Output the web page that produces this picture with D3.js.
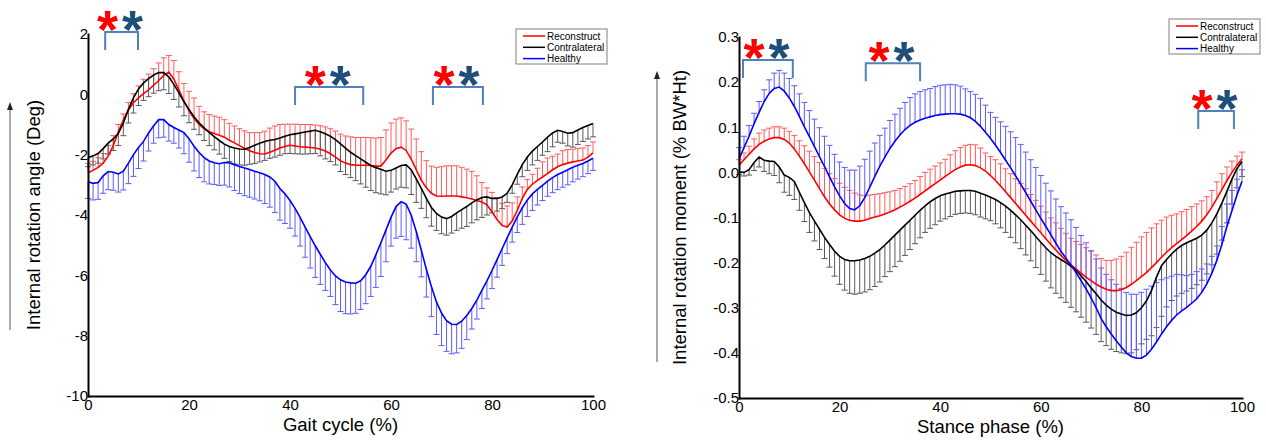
<!DOCTYPE html>
<html>
<head>
<meta charset="utf-8">
<script src="https://cdn.jsdelivr.net/npm/d3@7"></script>
<style>
  body { margin: 0; background: #fff; }
  text { font-family: Arial, "Liberation Sans", sans-serif; }
</style>
</head>
<body>
<div id="vis"></div>
<script>
// percent of gait cycle / stance phase, one point per 1 %
var pct = d3.range(0, 101);
var pctTicks = [0, 20, 40, 60, 80, 100];
var angleTicks = [2, 0, -2, -4, -6, -8, -10];
var momentTicks = [0.3, 0.2, 0.1, 0.0, -0.1, -0.2, -0.3, -0.4, -0.5];
var groups = ['Reconstruct', 'Contralateral', 'Healthy'];

// ---- internal rotation angle (deg), mean and SD ----
var angleReconstruct = [-2.60,-2.52,-2.42,-2.28,-2.05,-1.70,-1.25,-0.85,-0.52,-0.28,
  -0.12,0.02,0.15,0.30,0.46,0.63,0.74,0.50,0.15,-0.22,
  -0.55,-0.80,-1.00,-1.14,-1.24,-1.30,-1.36,-1.42,-1.52,-1.61,
  -1.70,-1.79,-1.87,-1.93,-1.97,-1.98,-1.92,-1.85,-1.78,-1.73,
  -1.69,-1.71,-1.74,-1.75,-1.76,-1.78,-1.82,-1.88,-1.97,-2.08,
  -2.20,-2.28,-2.33,-2.35,-2.35,-2.35,-2.36,-2.38,-2.38,-2.18,
  -1.95,-1.80,-1.75,-1.86,-2.15,-2.50,-2.85,-3.10,-3.28,-3.37,
  -3.38,-3.37,-3.37,-3.37,-3.40,-3.43,-3.47,-3.52,-3.57,-3.66,
  -3.90,-4.15,-4.35,-4.40,-4.20,-3.85,-3.45,-3.15,-2.98,-2.85,
  -2.74,-2.63,-2.50,-2.40,-2.33,-2.28,-2.24,-2.21,-2.18,-2.08,
  -1.94];
var angleReconstructSd = [0.30,0.30,0.32,0.32,0.35,0.33,0.25,0.20,0.25,0.30,
  0.40,0.48,0.52,0.55,0.58,0.58,0.55,0.62,0.60,0.58,
  0.65,0.68,0.60,0.56,0.57,0.58,0.60,0.58,0.56,0.56,
  0.56,0.58,0.60,0.66,0.70,0.76,0.80,0.80,0.78,0.74,
  0.70,0.72,0.74,0.75,0.76,0.76,0.78,0.80,0.83,0.86,
  0.88,0.90,0.92,0.92,0.92,0.92,0.92,0.93,0.95,1.00,
  1.00,0.98,0.97,0.98,1.00,1.02,0.95,0.90,0.90,0.95,
  0.98,1.00,1.00,1.00,0.98,0.95,0.92,0.82,0.65,0.56,
  0.65,0.72,0.74,0.70,0.60,0.45,0.38,0.33,0.33,0.40,
  0.50,0.52,0.45,0.42,0.46,0.45,0.42,0.42,0.40,0.38,
  0.36];
var angleContralateral = [-2.10,-2.04,-1.96,-1.80,-1.62,-1.48,-1.30,-0.95,-0.50,-0.12,
  0.18,0.38,0.52,0.64,0.72,0.72,0.58,0.33,0.05,-0.25,
  -0.50,-0.74,-0.94,-1.11,-1.26,-1.40,-1.53,-1.65,-1.73,-1.78,
  -1.81,-1.82,-1.76,-1.69,-1.62,-1.56,-1.52,-1.50,-1.45,-1.39,
  -1.34,-1.31,-1.28,-1.25,-1.22,-1.19,-1.24,-1.31,-1.39,-1.50,
  -1.64,-1.78,-1.92,-2.03,-2.14,-2.25,-2.36,-2.43,-2.48,-2.55,
  -2.52,-2.44,-2.36,-2.34,-2.50,-2.80,-3.12,-3.45,-3.75,-3.95,
  -4.07,-4.12,-4.05,-3.93,-3.82,-3.72,-3.60,-3.50,-3.42,-3.40,
  -3.45,-3.45,-3.40,-3.28,-3.00,-2.65,-2.33,-2.08,-1.88,-1.73,
  -1.58,-1.42,-1.28,-1.19,-1.23,-1.29,-1.27,-1.18,-1.10,-1.03,
  -0.97];
var angleContralateralSd = [0.30,0.30,0.32,0.34,0.36,0.38,0.40,0.42,0.45,0.50,
  0.55,0.58,0.60,0.60,0.60,0.57,0.55,0.50,0.47,0.46,
  0.44,0.42,0.40,0.42,0.44,0.44,0.45,0.47,0.50,0.53,
  0.53,0.53,0.56,0.60,0.62,0.63,0.60,0.58,0.57,0.58,
  0.62,0.66,0.70,0.73,0.75,0.77,0.80,0.83,0.84,0.84,
  0.92,0.88,0.84,0.83,0.83,0.83,0.83,0.83,0.82,0.78,
  0.72,0.70,0.72,0.76,0.82,0.78,0.66,0.64,0.62,0.56,
  0.55,0.55,0.55,0.58,0.62,0.66,0.66,0.66,0.66,0.60,
  0.48,0.42,0.39,0.30,0.28,0.33,0.40,0.44,0.46,0.46,
  0.44,0.48,0.46,0.40,0.39,0.42,0.48,0.48,0.46,0.45,
  0.44];
var angleHealthy = [-2.90,-2.95,-2.92,-2.70,-2.56,-2.58,-2.64,-2.55,-2.28,-2.00,
  -1.76,-1.56,-1.28,-1.04,-0.84,-0.84,-1.00,-1.10,-1.18,-1.27,
  -1.47,-1.72,-1.93,-2.10,-2.21,-2.27,-2.30,-2.26,-2.27,-2.33,
  -2.39,-2.44,-2.49,-2.55,-2.60,-2.66,-2.74,-2.88,-3.12,-3.30,
  -3.52,-3.78,-4.08,-4.40,-4.72,-5.02,-5.30,-5.58,-5.82,-6.02,
  -6.15,-6.22,-6.25,-6.26,-6.18,-5.98,-5.70,-5.32,-4.92,-4.50,
  -4.08,-3.72,-3.56,-3.64,-4.00,-4.55,-5.17,-5.80,-6.37,-6.88,
  -7.25,-7.50,-7.62,-7.63,-7.52,-7.33,-7.10,-6.82,-6.50,-6.18,
  -5.84,-5.48,-5.12,-4.76,-4.40,-4.06,-3.76,-3.50,-3.30,-3.15,
  -3.02,-2.88,-2.76,-2.66,-2.58,-2.50,-2.42,-2.35,-2.29,-2.21,
  -2.12];
var angleHealthySd = [0.55,0.55,0.56,0.58,0.60,0.60,0.60,0.62,0.68,0.72,
  0.70,0.65,0.60,0.58,0.60,0.58,0.55,0.52,0.60,0.70,
  0.78,0.82,0.83,0.80,0.76,0.72,0.72,0.75,0.80,0.86,
  0.90,0.92,0.92,0.92,0.93,0.96,1.00,1.04,1.05,0.98,
  0.92,0.92,0.95,1.00,1.04,1.05,1.00,0.92,0.88,0.95,
  1.05,1.05,1.03,1.00,0.95,0.96,1.00,1.08,1.12,1.05,
  0.95,1.05,1.15,1.18,1.10,1.00,0.88,0.92,1.00,1.08,
  1.08,1.02,0.98,0.94,0.90,0.80,0.68,0.63,0.60,0.60,
  0.60,0.58,0.55,0.52,0.50,0.52,0.55,0.55,0.55,0.52,
  0.50,0.50,0.50,0.50,0.50,0.50,0.48,0.46,0.44,0.42,
  0.40];

// ---- internal rotation moment (% BW*Ht), mean and SD ----
var momentReconstruct = [0.016,0.028,0.040,0.052,0.062,0.069,0.074,0.077,0.077,0.073,
  0.065,0.052,0.036,0.019,0.001,-0.017,-0.036,-0.054,-0.070,-0.083,
  -0.094,-0.102,-0.106,-0.108,-0.108,-0.106,-0.102,-0.099,-0.096,-0.092,
  -0.088,-0.083,-0.077,-0.071,-0.064,-0.057,-0.049,-0.041,-0.033,-0.025,
  -0.017,-0.009,-0.001,0.006,0.012,0.016,0.017,0.015,0.010,0.003,
  -0.007,-0.018,-0.030,-0.043,-0.056,-0.069,-0.082,-0.095,-0.108,-0.121,
  -0.134,-0.147,-0.160,-0.172,-0.184,-0.195,-0.205,-0.214,-0.223,-0.232,
  -0.240,-0.248,-0.254,-0.259,-0.262,-0.262,-0.260,-0.255,-0.248,-0.240,
  -0.231,-0.222,-0.211,-0.200,-0.188,-0.177,-0.167,-0.158,-0.149,-0.140,
  -0.130,-0.120,-0.108,-0.094,-0.077,-0.058,-0.038,-0.018,0.000,0.016,
  0.030];
var momentReconstructSd = [0.012,0.015,0.018,0.022,0.025,0.025,0.024,0.024,0.024,0.025,
  0.026,0.030,0.034,0.040,0.046,0.052,0.058,0.063,0.067,0.069,
  0.070,0.069,0.066,0.062,0.058,0.054,0.052,0.050,0.049,0.047,
  0.045,0.043,0.041,0.040,0.039,0.039,0.040,0.041,0.040,0.039,
  0.038,0.038,0.040,0.042,0.043,0.044,0.045,0.046,0.044,0.040,
  0.042,0.046,0.049,0.051,0.053,0.055,0.057,0.059,0.059,0.059,
  0.059,0.059,0.059,0.060,0.060,0.060,0.059,0.061,0.063,0.065,
  0.066,0.065,0.063,0.064,0.067,0.070,0.074,0.078,0.082,0.085,
  0.088,0.089,0.088,0.086,0.082,0.078,0.072,0.066,0.062,0.058,
  0.054,0.050,0.045,0.040,0.037,0.037,0.035,0.030,0.025,0.020,
  0.015];
var momentContralateral = [0.001,0.000,0.006,0.022,0.034,0.027,0.025,0.024,0.012,-0.006,
  -0.011,-0.020,-0.044,-0.067,-0.089,-0.108,-0.126,-0.144,-0.160,-0.175,
  -0.186,-0.193,-0.196,-0.196,-0.194,-0.191,-0.186,-0.179,-0.171,-0.161,
  -0.150,-0.139,-0.128,-0.117,-0.106,-0.095,-0.084,-0.074,-0.065,-0.058,
  -0.052,-0.048,-0.045,-0.042,-0.041,-0.040,-0.040,-0.042,-0.046,-0.050,
  -0.055,-0.060,-0.067,-0.075,-0.084,-0.094,-0.105,-0.117,-0.129,-0.142,
  -0.155,-0.167,-0.178,-0.186,-0.193,-0.200,-0.208,-0.217,-0.229,-0.242,
  -0.256,-0.269,-0.283,-0.294,-0.303,-0.310,-0.314,-0.317,-0.316,-0.311,
  -0.300,-0.285,-0.262,-0.232,-0.207,-0.193,-0.181,-0.170,-0.162,-0.156,
  -0.151,-0.146,-0.139,-0.128,-0.112,-0.092,-0.068,-0.042,-0.015,0.008,
  0.024];
var momentContralateralSd = [0.006,0.008,0.012,0.018,0.022,0.025,0.028,0.031,0.035,0.038,
  0.040,0.040,0.040,0.042,0.044,0.044,0.045,0.047,0.050,0.055,
  0.062,0.068,0.072,0.074,0.074,0.074,0.074,0.074,0.072,0.070,
  0.070,0.070,0.069,0.067,0.065,0.063,0.061,0.059,0.059,0.058,
  0.056,0.055,0.053,0.051,0.050,0.050,0.051,0.052,0.053,0.053,
  0.052,0.054,0.056,0.058,0.060,0.062,0.064,0.066,0.067,0.069,
  0.071,0.074,0.078,0.082,0.085,0.088,0.091,0.092,0.092,0.090,
  0.089,0.090,0.092,0.090,0.089,0.087,0.086,0.085,0.084,0.082,
  0.080,0.085,0.100,0.112,0.112,0.105,0.103,0.104,0.106,0.107,
  0.106,0.103,0.100,0.097,0.093,0.089,0.082,0.070,0.055,0.042,
  0.033];
var momentHealthy = [0.030,0.055,0.080,0.108,0.133,0.157,0.175,0.186,0.189,0.180,
  0.165,0.146,0.124,0.101,0.079,0.057,0.035,0.013,-0.010,-0.032,
  -0.052,-0.069,-0.080,-0.083,-0.074,-0.056,-0.033,-0.009,0.014,0.034,
  0.053,0.069,0.083,0.095,0.104,0.111,0.116,0.120,0.123,0.126,
  0.128,0.129,0.130,0.130,0.129,0.126,0.121,0.113,0.102,0.089,
  0.075,0.060,0.044,0.027,0.010,-0.008,-0.026,-0.045,-0.064,-0.083,
  -0.102,-0.120,-0.138,-0.157,-0.175,-0.190,-0.205,-0.222,-0.240,-0.258,
  -0.278,-0.300,-0.324,-0.342,-0.358,-0.373,-0.387,-0.400,-0.408,-0.412,
  -0.412,-0.405,-0.392,-0.376,-0.358,-0.342,-0.328,-0.316,-0.307,-0.299,
  -0.290,-0.280,-0.266,-0.247,-0.224,-0.195,-0.160,-0.120,-0.085,-0.050,
  -0.020];
var momentHealthySd = [0.025,0.025,0.024,0.023,0.024,0.026,0.030,0.034,0.037,0.040,
  0.043,0.046,0.050,0.054,0.058,0.061,0.064,0.067,0.070,0.072,
  0.075,0.080,0.085,0.088,0.088,0.085,0.080,0.074,0.068,0.064,
  0.062,0.060,0.059,0.060,0.062,0.063,0.063,0.063,0.063,0.064,
  0.065,0.065,0.065,0.064,0.062,0.059,0.058,0.060,0.062,0.060,
  0.058,0.062,0.068,0.075,0.080,0.085,0.088,0.090,0.092,0.094,
  0.095,0.096,0.097,0.098,0.099,0.100,0.100,0.100,0.100,0.102,
  0.104,0.108,0.112,0.116,0.120,0.125,0.130,0.134,0.138,0.142,
  0.146,0.146,0.140,0.132,0.120,0.108,0.098,0.090,0.080,0.070,
  0.064,0.060,0.052,0.044,0.038,0.032,0.040,0.050,0.045,0.035,
  0.026];

// significance brackets: [start %, end %, top value]
var angleBrackets = [[3.4, 9.9, 2.07], [41.0, 54.5, 0.24], [68.3, 78.2, 0.24]];
var momentBrackets = [[0.8, 10.7, 0.249], [25.2, 36.0, 0.242], [91.3, 98.4, 0.136]];

var colors = { line: ['#ff0000', '#000000', '#0000ff'], bar: ['#ff5c5c', '#5a5a5a', '#5c5cff'] };

var width = 1266, height = 443;
var svg = d3.select('#vis').append('svg')
            .attr('width', width)
            .attr('height', height);
svg.append('rect').attr('width', width).attr('height', height).attr('fill', '#fff');

function drawPanel(cfg) {
    var x = d3.scaleLinear().domain([0, 100]).range(cfg.xRange);
    var y = d3.scaleLinear().domain(cfg.yDomain).range(cfg.yRange);
    var g = svg.append('g');

    // error bars (one side only, like the original figure)
    cfg.series.forEach(function(s, k) {
        var bars = g.append('g')
                    .attr('stroke', colors.bar[k])
                    .attr('stroke-width', 1);
        bars.selectAll('line.stem')
            .data(s.mean)
            .enter().append('line')
            .attr('class', 'stem')
            .attr('x1', (d, i) => x(pct[i]))
            .attr('x2', (d, i) => x(pct[i]))
            .attr('y1', (d) => y(d))
            .attr('y2', (d, i) => y(d + s.dir * s.sd[i]));
        bars.selectAll('line.cap')
            .data(s.mean)
            .enter().append('line')
            .attr('class', 'cap')
            .attr('x1', (d, i) => x(pct[i]) - 3)
            .attr('x2', (d, i) => x(pct[i]) + 3)
            .attr('y1', (d, i) => y(d + s.dir * s.sd[i]))
            .attr('y2', (d, i) => y(d + s.dir * s.sd[i]));
    });

    // mean curves
    var line = d3.line().x((d, i) => x(pct[i])).y((d) => y(d));
    cfg.series.forEach(function(s, k) {
        g.append('path')
         .attr('d', line(s.mean))
         .attr('fill', 'none')
         .attr('stroke', colors.line[k])
         .attr('stroke-width', 1.6);
    });

    // axes
    var xAxisG = g.append('g')
                  .attr('transform', `translate(0,${cfg.yRange[0]})`)
                  .call(d3.axisBottom(x).tickValues(pctTicks).tickSize(0).tickPadding(3));
    var yAxisG = g.append('g')
                  .attr('transform', `translate(${cfg.xRange[0]},0)`)
                  .call(d3.axisLeft(y).tickValues(cfg.yTicks).tickSize(0).tickPadding(0)
                                      .tickFormat(cfg.yFormat));
    [xAxisG, yAxisG].forEach(function(a) {
        a.attr('font-size', 15)
         .attr('font-family', 'Arial, "Liberation Sans", sans-serif');
        a.select('.domain').attr('stroke', '#000').attr('stroke-width', 2)
         .attr('stroke-linecap', 'square');
        a.selectAll('text').attr('fill', '#000');
    });

    // axis titles
    svg.append('text')
       .attr('x', (cfg.xRange[0] + cfg.xRange[1]) / 2)
       .attr('y', cfg.xTitleY)
       .attr('text-anchor', 'middle')
       .attr('font-size', 18.5)
       .text(cfg.xTitle);
    svg.append('text')
       .attr('transform', `translate(${cfg.yTitleX},${(cfg.yRange[0] + cfg.yRange[1]) / 2}) rotate(-90)`)
       .attr('text-anchor', 'middle')
       .attr('font-size', 18.5)
       .text(cfg.yTitle);

    // arrow next to y title
    svg.append('line')
       .attr('x1', cfg.arrow[0]).attr('x2', cfg.arrow[0])
       .attr('y1', cfg.arrow[1]).attr('y2', cfg.arrow[2] + 6)
       .attr('stroke', '#555').attr('stroke-width', 1);
    svg.append('path')
       .attr('d', `M${cfg.arrow[0]},${cfg.arrow[2]} l-3,8 l6,0 z`)
       .attr('fill', '#222');

    // significance brackets and asterisks
    var starSize = 54;
    cfg.brackets.forEach(function(b) {
        var xs = x(b[0]), xe = x(b[1]), yt = y(b[2]);
        g.append('path')
         .attr('d', `M${xs},${yt + 18}V${yt}H${xe}V${yt + 18}`)
         .attr('fill', 'none')
         .attr('stroke', '#4f81bd')
         .attr('stroke-width', 2);
        var xc = (xs + xe) / 2;
        [['#ff0000', xc - 14], ['#1f4e79', xc + 11]].forEach(function(a) {
            g.append('text')
             .attr('x', a[1])
             .attr('y', yt - 15 + starSize * 0.575)
             .attr('text-anchor', 'middle')
             .attr('font-size', starSize)
             .attr('font-weight', 'bold')
             .attr('fill', a[0])
             .text('*');
        });
    });

    // legend
    var lg = svg.append('g').attr('transform', `translate(${cfg.legend[0]},${cfg.legend[1]})`);
    lg.append('rect')
      .attr('width', 91).attr('height', 35)
      .attr('fill', '#fff').attr('stroke', '#808080').attr('stroke-width', 1);
    groups.forEach(function(name, k) {
        var row = lg.append('g').attr('transform', `translate(0,${7 + k * 11.3})`);
        row.append('line')
           .attr('x1', 7).attr('x2', 29)
           .attr('stroke', colors.line[k]).attr('stroke-width', 1.5);
        row.append('text')
           .attr('x', 31).attr('y', 3.6)
           .attr('font-size', 10)
           .attr('fill', '#000')
           .text(name);
    });
}

drawPanel({
    xRange: [88, 593], yRange: [396, 34], yDomain: [-10, 2],
    yTicks: angleTicks, yFormat: (d) => String(d),
    series: [
        { mean: angleReconstruct, sd: angleReconstructSd, dir: 1 },
        { mean: angleContralateral, sd: angleContralateralSd, dir: -1 },
        { mean: angleHealthy, sd: angleHealthySd, dir: -1 }
    ],
    xTitle: 'Gait cycle (%)', xTitleY: 431,
    yTitle: 'Internal rotation angle (Deg)', yTitleX: 40,
    arrow: [10, 330, 102],
    brackets: angleBrackets,
    legend: [516, 29]
});

drawPanel({
    xRange: [739, 1242], yRange: [398, 37], yDomain: [-0.5, 0.3],
    yTicks: momentTicks, yFormat: (d) => d.toFixed(1),
    series: [
        { mean: momentReconstruct, sd: momentReconstructSd, dir: 1 },
        { mean: momentContralateral, sd: momentContralateralSd, dir: -1 },
        { mean: momentHealthy, sd: momentHealthySd, dir: 1 }
    ],
    xTitle: 'Stance phase (%)', xTitleY: 433,
    yTitle: 'Internal rotation moment (% BW*Ht)', yTitleX: 686,
    arrow: [657, 362, 71],
    brackets: momentBrackets,
    legend: [1169, 19]
});
</script>
</body>
</html>
